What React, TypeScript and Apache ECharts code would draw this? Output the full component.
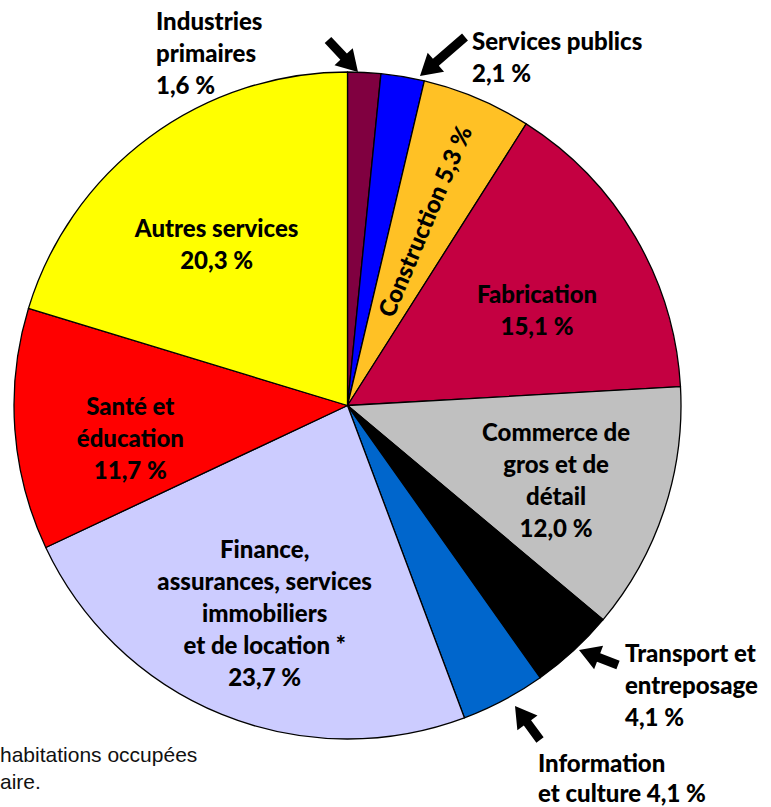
import React, { useEffect, useRef } from "react";
import * as echarts from "echarts";

const categories = [
  "Industries primaires",
  "Services publics",
  "Construction",
  "Fabrication",
  "Commerce de gros et de détail",
  "Transport et entreposage",
  "Information et culture",
  "Finance, assurances, services immobiliers et de location *",
  "Santé et éducation",
  "Autres services",
];
const displayNames = [
  "Industries\nprimaires",
  "Services publics",
  "Construction",
  "Fabrication",
  "Commerce de\ngros et de\ndétail",
  "Transport et\nentreposage",
  "Information\net culture",
  "Finance,\nassurances, services\nimmobiliers\net de location *",
  "Santé et\néducation",
  "Autres services",
];
const separators = ["\n", "\n", " ", "\n", "\n", "\n", " ", "\n", "\n", "\n"];
const values = [1.6, 2.1, 5.3, 15.1, 12.0, 4.1, 4.1, 23.7, 11.7, 20.3];
const colors = [
  "#800040",
  "#0000FF",
  "#FFC125",
  "#C40041",
  "#C0C0C0",
  "#000000",
  "#0066CC",
  "#CCCCFF",
  "#FF0000",
  "#FFFF00",
];
const insideIdx = [2, 3, 4, 7, 8, 9];
const footnoteLines = ["habitations occupées", "aire."];

const fmt = (v: number) => v.toFixed(1).replace(".", ",") + " %";
const labelText = (i: number) => displayNames[i] + separators[i] + fmt(values[i]);

const FONT = "Lato";
const FS = 24;
const FW = 900;

function arrow(tail: number[], tip: number[], shaftW = 9, headW = 25, headL = 21) {
  const dx = tip[0] - tail[0];
  const dy = tip[1] - tail[1];
  const len = Math.hypot(dx, dy);
  const ux = dx / len, uy = dy / len;
  const nx = -uy, ny = ux;
  const bx = tip[0] - ux * headL, by = tip[1] - uy * headL;
  return [
    [tail[0] + (nx * shaftW) / 2, tail[1] + (ny * shaftW) / 2],
    [bx + (nx * shaftW) / 2, by + (ny * shaftW) / 2],
    [bx + (nx * headW) / 2, by + (ny * headW) / 2],
    [tip[0], tip[1]],
    [bx - (nx * headW) / 2, by - (ny * headW) / 2],
    [bx - (nx * shaftW) / 2, by - (ny * shaftW) / 2],
    [tail[0] - (nx * shaftW) / 2, tail[1] - (ny * shaftW) / 2],
  ];
}

export default function App() {
  const ref = useRef<HTMLDivElement>(null);
  useEffect(() => {
    if (!ref.current) return;
    const chart = echarts.init(ref.current, null, { renderer: "svg" });
    const R = 333.5;
    const center = [347.5, 405.5];
    const offsets: Record<number, number[]> = {
      2: [-20, -1],
      3: [0, 15],
      4: [0, 5],
      7: [0, 3],
      8: [2, 16],
      9: [0, 15],
    };

    const outside = [
      { idx: 0, x: 156, y: 52, lh: 32 },
      { idx: 1, x: 472, y: 56, lh: 32 },
      { idx: 5, x: 625, y: 684, lh: 32 },
      { idx: 6, x: 538, y: 777, lh: 30 },
    ];
    const arrows = [
      { tail: [328, 40], tip: [358, 72] },
      { tail: [465, 37], tip: [420, 76] },
      { tail: [618, 665], tip: [579, 650] },
      { tail: [540, 740], tip: [515, 706] },
    ];

    const graphic: any[] = [];
    outside.forEach((o) => {
      graphic.push({
        type: "text",
        x: o.x,
        y: o.y,
        style: {
          text: labelText(o.idx),
          fill: "#000",
          fontFamily: FONT,
          fontWeight: FW,
          fontSize: FS,
          lineHeight: o.lh,
          textAlign: "left",
          textVerticalAlign: "middle",
        },
      });
    });
    arrows.forEach((a) => {
      graphic.push({
        type: "polygon",
        shape: { points: arrow(a.tail, a.tip) },
        style: { fill: "#000" },
      });
    });
    graphic.push({
      type: "text",
      x: 0,
      y: 768,
      style: {
        text: footnoteLines.join("\n"),
        fill: "#111",
        fontFamily: "Liberation Sans",
        fontSize: 21,
        lineHeight: 27,
        textAlign: "left",
        textVerticalAlign: "middle",
      },
    });

    chart.setOption({
      animation: false,
      backgroundColor: "#fff",
      graphic,
      series: [
        {
          type: "pie",
          center,
          radius: [0, R],
          startAngle: 90,
          clockwise: true,
          silent: true,
          label: { show: false },
          labelLine: { show: false },
          itemStyle: { borderColor: "#000", borderWidth: 1.3 },
          data: categories.map((c, i) => ({
            name: c,
            value: values[i],
            itemStyle: { color: colors[i] },
          })),
        },
        {
          type: "pie",
          center,
          radius: [R * 0.3, R],
          startAngle: 90,
          clockwise: true,
          silent: true,
          labelLine: { show: false },
          itemStyle: { color: "rgba(0,0,0,0)", borderWidth: 0 },
          label: {
            show: true,
            position: "inside",
            color: "#000",
            fontFamily: FONT,
            fontWeight: FW,
            fontSize: FS,
            lineHeight: 32,
            formatter: (p: any) => labelText(p.dataIndex),
          },
          labelLayout: (p: any) => {
            const o = offsets[p.dataIndex] || [0, 0];
            return { dx: o[0], dy: o[1] };
          },
          data: categories.map((c, i) => ({
            name: c,
            value: values[i],
            label:
              insideIdx.indexOf(i) < 0
                ? { show: false }
                : i === 2
                ? { show: true, rotate: "radial" }
                : { show: true },
          })),
        },
      ],
    });
    return () => chart.dispose();
  }, []);
  return (
    <div
      ref={ref}
      style={{ position: "absolute", left: 0, top: 0, width: 771, height: 807 }}
    />
  );
}
